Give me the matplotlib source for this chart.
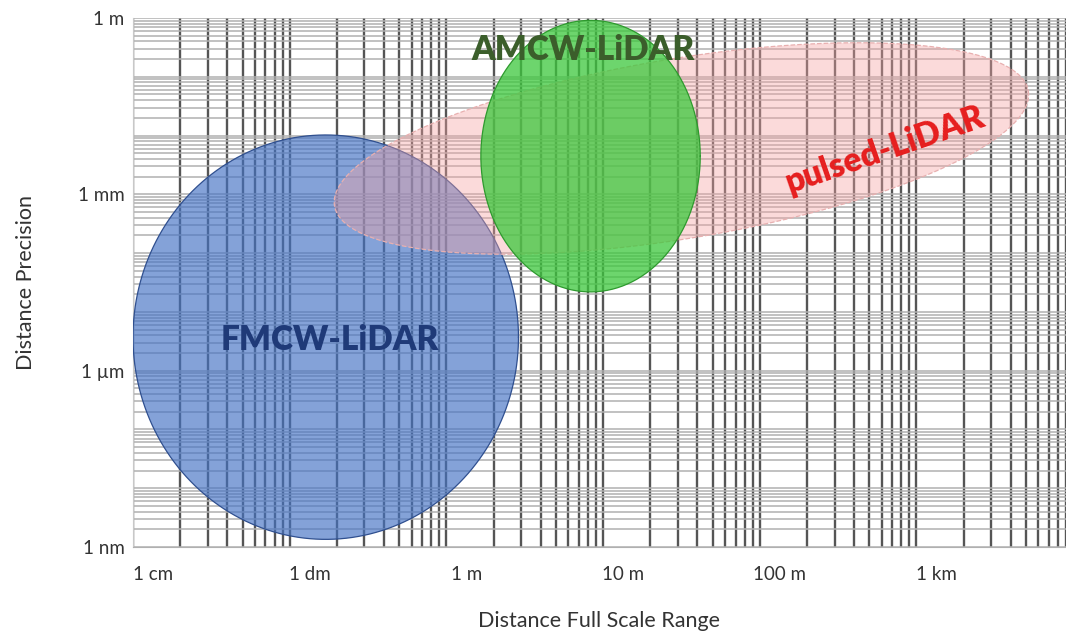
import numpy as np
import matplotlib
matplotlib.use('Agg')
import matplotlib.pyplot as plt
from matplotlib.ticker import FixedLocator, LogLocator, NullFormatter
from matplotlib.transforms import ScaledTranslation

plt.rcParams['font.family'] = ['Lato', 'DejaVu Sans']

# axis ticks (metres)
x_ticks = [0.01, 0.1, 1, 10, 100, 1000]
x_labels = ['1 cm', '1 dm', '1 m', '10 m', '100 m', '1 km']
y_ticks = [1e-9, 1e-6, 1e-3, 1]
y_labels = ['1 nm', '1 µm', '1 mm', '1 m']

# technology regions, ellipses in log10(m) space:
# centre, first semi-axis vector, second semi-axis vector
names = ['FMCW-LiDAR', 'pulsed-LiDAR', 'AMCW-LiDAR']
centers = [(-0.77, -5.43), (1.50, -2.22), (0.92, -2.35)]
axis_a = [(1.23, 0.0), (2.214, 0.978), (0.70, 0.0)]
axis_b = [(0.0, 3.44), (0.094, -1.51), (0.0, 2.31)]

# label anchor points (metres)
label_x = [0.18, 630, 7.5]
label_y = [3.3e-6, 5.7e-3, 0.29]
label_rot = [0, 19, 0]

fills = ['#4472C4', '#F5A3A3', '#3CC83C']
alphas = [0.66, 0.4, 0.75]
edges = ['#2F4F8F', '#E8B0B0', '#2E9A2E']
styles = ['-', '--', '-']
text_colors = ['#1F3A78', '#E61E1E', '#3B5E2B']

fig = plt.figure(figsize=(10.66, 6.4), dpi=100)
ax = fig.add_axes([133 / 1066, 1 - 547 / 640, 1 - 133 / 1066, 529 / 640])
ax.set_xscale('log')
ax.set_yscale('log')
ax.set_xlim(0.0101, 9000)
ax.set_ylim(1e-9, 1)

ax.xaxis.set_major_locator(FixedLocator(x_ticks))
ax.xaxis.set_minor_locator(LogLocator(base=10, subs=np.arange(2, 11), numticks=100))
ax.yaxis.set_major_locator(FixedLocator(y_ticks))
ax.yaxis.set_minor_locator(LogLocator(base=10, subs=np.arange(1, 10), numticks=100))
ax.xaxis.set_minor_formatter(NullFormatter())
ax.yaxis.set_minor_formatter(NullFormatter())
ax.set_xticks(x_ticks)
ax.set_xticklabels(x_labels)
ax.set_yticks(y_ticks)
ax.set_yticklabels(y_labels)

ax.grid(True, which='both', axis='y', color='#b0b0b0', lw=1.1)
ax.grid(True, which='both', axis='x', color='#555555', lw=1.7)
ax.set_axisbelow(True)

ax.tick_params(which='both', length=0)
ax.tick_params(axis='x', pad=14, labelsize=13.5, labelcolor='#333333')
ax.tick_params(axis='y', pad=6, labelsize=13.5, labelcolor='#333333')
for s in ['top', 'right']:
    ax.spines[s].set_visible(False)
ax.spines['left'].set_color('#c8c8c8')
ax.spines['bottom'].set_color('#b0b0b0')

# x labels sit a little right of their decade line
shift = ScaledTranslation(0.2, 0, fig.dpi_scale_trans)
for lab in ax.get_xticklabels():
    lab.set_transform(lab.get_transform() + shift)

t = np.linspace(0, 2 * np.pi, 400)
for i in range(len(names)):
    cx, cy = centers[i]
    ax_, ay_ = axis_a[i]
    bx, by = axis_b[i]
    lx = cx + ax_ * np.cos(t) + bx * np.sin(t)
    ly = cy + ay_ * np.cos(t) + by * np.sin(t)
    ax.fill(10 ** lx, 10 ** ly, facecolor=fills[i], alpha=alphas[i], zorder=3 + i)
    ax.plot(10 ** lx, 10 ** ly, color=edges[i], lw=0.9, ls=styles[i], zorder=3 + i)

for i in range(len(names)):
    ax.text(label_x[i], label_y[i], names[i], color=text_colors[i], fontsize=24,
            fontweight='heavy', rotation=label_rot[i], ha='center', va='center',
            rotation_mode='anchor', zorder=10)

ax.set_xlabel('Distance Full Scale Range', fontsize=15.5, color='#333333', labelpad=20)
ax.set_ylabel('Distance Precision', fontsize=15.5, color='#333333', labelpad=30)

fig.savefig('out.png', dpi=100)
